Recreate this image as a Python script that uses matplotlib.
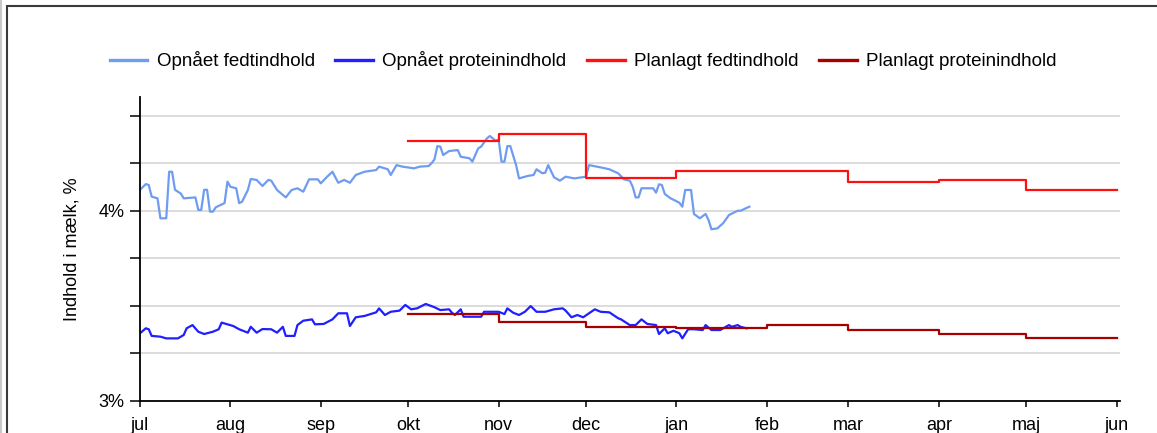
import matplotlib
matplotlib.use("Agg")
import matplotlib.pyplot as plt
from matplotlib.patches import Rectangle
from matplotlib.lines import Line2D
import numpy as np

plt.rcParams['font.family'] = ['Liberation Sans', 'DejaVu Sans']

# days counted from 1 jul
month_days = [0, 31, 62, 92, 123, 153, 184, 215, 243, 274, 304, 335]
month_labels = ['jul', 'aug', 'sep', 'okt', 'nov', 'dec', 'jan', 'feb', 'mar', 'apr', 'maj', 'jun']

fat_days = [0, 2, 3, 4, 6, 7, 9, 10, 11, 12, 14, 15, 19, 20, 21, 22, 23, 24, 25, 26,
            29, 30, 31, 33, 34, 35, 37, 38, 40, 42, 44, 45, 47, 50, 52, 54, 56, 58, 61, 62,
            64, 66, 68, 70, 72, 74, 77, 81, 82, 85, 86, 88, 90, 94, 96, 99, 100, 101, 102, 103,
            104, 106, 109, 110, 113, 114, 116, 117, 119, 120, 122, 123, 124, 125, 126, 127, 129, 130, 133, 135,
            136, 138, 139, 140, 142, 144, 146, 149, 153, 154, 158, 161, 164, 166, 168, 169, 170, 171, 172, 176,
            177, 178, 179, 180, 182, 185, 186, 187, 189, 190, 192, 194, 195, 196, 198, 200, 202, 205, 206, 209]
fat_vals = [4.11, 4.14, 4.135, 4.074, 4.065, 3.96, 3.96, 4.205, 4.205, 4.11, 4.09, 4.065, 4.07, 4.004, 4.004, 4.11, 4.11, 3.995, 3.995, 4.018,
            4.04, 4.153, 4.126, 4.118, 4.04, 4.047, 4.109, 4.167, 4.162, 4.13, 4.162, 4.158, 4.109, 4.07, 4.109, 4.118, 4.10, 4.165, 4.165, 4.144,
            4.176, 4.205, 4.147, 4.162, 4.147, 4.188, 4.205, 4.214, 4.232, 4.218, 4.188, 4.24, 4.232, 4.223, 4.232, 4.235, 4.25, 4.27, 4.34, 4.337,
            4.293, 4.314, 4.319, 4.284, 4.276, 4.258, 4.328, 4.337, 4.381, 4.393, 4.368, 4.376, 4.258, 4.258, 4.34, 4.34, 4.24, 4.17, 4.183, 4.188,
            4.218, 4.197, 4.20, 4.24, 4.176, 4.158, 4.179, 4.17, 4.179, 4.24, 4.228, 4.218, 4.197, 4.165, 4.158, 4.126, 4.07, 4.07, 4.118, 4.118,
            4.095, 4.139, 4.135, 4.088, 4.065, 4.042, 4.021, 4.109, 4.109, 3.983, 3.96, 3.983, 3.951, 3.902, 3.907, 3.934, 3.977, 4.0, 4.0, 4.021]

prot_days = [0, 2, 3, 4, 7, 9, 13, 15, 16, 18, 20, 22, 25, 27, 28, 32, 34, 37, 38, 40,
             42, 45, 47, 49, 50, 53, 54, 56, 59, 60, 63, 66, 68, 71, 72, 74, 77, 81, 82, 84,
             86, 89, 91, 93, 95, 98, 101, 103, 106, 107, 108, 110, 111, 117, 118, 123, 125, 126, 128, 130,
             132, 134, 136, 139, 142, 145, 146, 148, 150, 152, 154, 156, 158, 161, 164, 165, 168, 170, 172, 174,
             177, 178, 180, 181, 183, 185, 186, 188, 190, 193, 194, 196, 199, 202, 203, 205, 206, 208]
prot_vals = [3.355, 3.381, 3.376, 3.341, 3.337, 3.328, 3.328, 3.346, 3.381, 3.398, 3.363, 3.351, 3.363, 3.376, 3.411, 3.393, 3.376, 3.358, 3.389, 3.358,
             3.377, 3.376, 3.358, 3.389, 3.341, 3.341, 3.398, 3.421, 3.428, 3.402, 3.404, 3.428, 3.46, 3.46, 3.393, 3.439, 3.446, 3.465, 3.486, 3.451,
             3.468, 3.474, 3.504, 3.481, 3.486, 3.509, 3.492, 3.477, 3.481, 3.463, 3.451, 3.481, 3.442, 3.442, 3.468, 3.468, 3.456, 3.486, 3.463, 3.451,
             3.468, 3.498, 3.468, 3.468, 3.481, 3.486, 3.474, 3.439, 3.451, 3.439, 3.46, 3.481, 3.468, 3.465, 3.434, 3.428, 3.398, 3.398, 3.428, 3.404,
             3.398, 3.351, 3.381, 3.355, 3.368, 3.355, 3.328, 3.376, 3.376, 3.372, 3.398, 3.372, 3.372, 3.398, 3.389, 3.398, 3.389, 3.381]

plan_days = [92, 123, 153, 184, 215, 243, 274, 304, 335]
plan_fat = [4.367, 4.404, 4.17, 4.211, 4.211, 4.149, 4.162, 4.109, 4.109]
plan_prot = [3.455, 3.416, 3.389, 3.381, 3.398, 3.372, 3.349, 3.328, 3.328]

W, H = 1157, 433
fig = plt.figure(figsize=(W / 100, H / 100), dpi=100)
ppd = (1116.7 - 140) / 335
ax = fig.add_axes([140 / W, 1 - 400.7 / H, 336 * ppd / W, 304 / H])

ax.plot(fat_days, fat_vals, color='#6f9cf0', lw=1.6, label='Opnået fedtindhold')
ax.plot(prot_days, prot_vals, color='#1f1fff', lw=1.6, label='Opnået proteinindhold')
ax.step(plan_days, plan_fat, where='post', color='#ff1010', lw=1.6, label='Planlagt fedtindhold')
ax.step(plan_days, plan_prot, where='post', color='#a80000', lw=1.6, label='Planlagt proteinindhold')

ax.set_xlim(0, 336)
ax.set_ylim(3, 4.6)
yt = np.arange(3, 4.51, 0.25)
ax.set_yticks(yt)
ax.set_yticklabels(['3%' if abs(v - 3) < 1e-6 else '4%' if abs(v - 4) < 1e-6 else '' for v in yt])
ax.set_xticks(month_days)
ax.set_xticklabels(month_labels)
ax.grid(axis='y', color='#dcdcdc', lw=1.4)
ax.set_axisbelow(True)
for s in ['top', 'right']:
    ax.spines[s].set_visible(False)
for s in ['left', 'bottom']:
    ax.spines[s].set_linewidth(1.3)
    ax.spines[s].set_color('black')
ax.tick_params(axis='y', length=7, width=1.1, pad=4, labelsize=13)
ax.tick_params(axis='x', length=4, width=1.1, pad=8, labelsize=13)
ax.set_ylabel('Indhold i mælk, %', fontsize=13, labelpad=13)

leg = fig.legend(loc='center', bbox_to_anchor=(0.504, 1 - 61 / H), ncol=4, frameon=False,
                 fontsize=13.5, handlelength=2.0, handletextpad=0.5, columnspacing=1.1)
for ln in leg.get_lines():
    ln.set_linewidth(2.4)

fig.add_artist(Rectangle((7 / W, -0.1), 1.2, 1 - 6 / H + 0.1, transform=fig.transFigure,
                         fill=False, edgecolor='#3a3a3a', lw=1.5))
fig.add_artist(Line2D([1 / W, 1 / W], [0, 1], transform=fig.transFigure, color='#c8c8c8', lw=1.5))

fig.savefig('out.png', dpi=100)
